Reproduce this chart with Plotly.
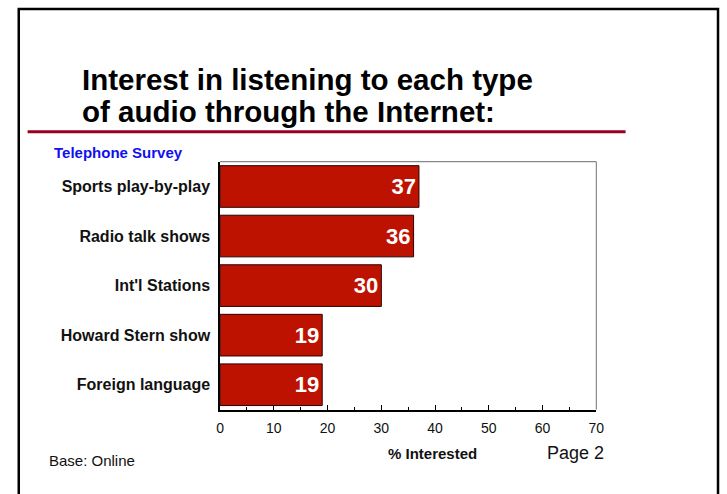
import plotly.graph_objects as go

# Survey results
categories = ["Sports play-by-play", "Radio talk shows", "Int'l Stations",
              "Howard Stern show", "Foreign language"]
interested = [37, 36, 30, 19, 19]
x_ticks = [0, 10, 20, 30, 40, 50, 60, 70]

W, H = 727, 494
FONT = "Liberation Sans, Arial, sans-serif"


def px(x):
    return x / W


def py(y):
    return 1 - y / H


fig = go.Figure()
fig.add_trace(go.Bar(
    x=interested,
    y=categories,
    orientation="h",
    width=0.84,
    marker=dict(color="#BE1200", line=dict(color="#2a0000", width=1)),
    text=[str(v) for v in interested],
    textposition="inside",
    insidetextanchor="end",
    textfont=dict(family=FONT, size=22, color="white", weight="bold"),
    hoverinfo="skip",
))

fig.update_layout(
    width=W, height=H, autosize=False,
    margin=dict(l=0, r=0, t=0, b=0),
    paper_bgcolor="white", plot_bgcolor="white",
    showlegend=False,
    xaxis=dict(
        domain=[px(219.7), px(602.3)],
        range=[0, 70],
        tickvals=x_ticks,
        ticktext=[str(v) for v in x_ticks],
        ticks="inside", ticklen=5, tickwidth=1, tickcolor="black",
        minor=dict(ticks="inside", ticklen=3, tickwidth=1, tickcolor="black", dtick=5),
        showline=True, linecolor="black", linewidth=1.5,
        showgrid=False, zeroline=False,
        ticklabelstandoff=5,
        tickfont=dict(family=FONT, size=14, color="#111"),
        fixedrange=True,
    ),
    yaxis=dict(
        domain=[py(409.5), py(161.7)],
        categoryorder="array", categoryarray=categories,
        autorange="reversed",
        showline=True, linecolor="black", linewidth=1.5,
        ticks="", showgrid=False, zeroline=False,
        ticklabelstandoff=5,
        tickfont=dict(family=FONT, size=16, color="#111", weight="bold"),
        fixedrange=True,
    ),
    shapes=[
        # outer slide frame
        dict(type="rect", xref="paper", yref="paper",
             x0=px(15), x1=px(726), y0=-0.2, y1=py(9),
             line=dict(color="black", width=2.5)),
        # rule under the title
        dict(type="line", xref="paper", yref="paper",
             x0=px(24), x1=px(632), y0=py(131.7), y1=py(131.7),
             line=dict(color="#990020", width=3)),
        # top and right edges of the plot box
        dict(type="line", xref="x domain", yref="y domain",
             x0=0, x1=1, y0=1, y1=1, line=dict(color="#888", width=1.2)),
        dict(type="line", xref="x domain", yref="y domain",
             x0=1, x1=1, y0=0, y1=1, line=dict(color="#888", width=1.2)),
    ],
    annotations=[
        dict(text="Interest in listening to each type", xref="paper", yref="paper",
             x=px(77), y=py(79.5), xanchor="left", yanchor="middle", showarrow=False,
             font=dict(family=FONT, size=29.5, color="black", weight="bold")),
        dict(text="of audio through the Internet:", xref="paper", yref="paper",
             x=px(77), y=py(111), xanchor="left", yanchor="middle", showarrow=False,
             font=dict(family=FONT, size=29.5, color="black", weight="bold")),
        dict(text="Telephone Survey", xref="paper", yref="paper",
             x=px(49), y=py(152), xanchor="left", yanchor="middle", showarrow=False,
             font=dict(family=FONT, size=15, color="#1010EE", weight="bold")),
        dict(text="% Interested", xref="paper", yref="paper",
             x=px(436), y=py(453), xanchor="center", yanchor="middle", showarrow=False,
             font=dict(family=FONT, size=15, color="#111", weight="bold")),
        dict(text="Page 2", xref="paper", yref="paper",
             x=px(612), y=py(453), xanchor="right", yanchor="middle", showarrow=False,
             font=dict(family=FONT, size=18, color="#111")),
        dict(text="Base: Online", xref="paper", yref="paper",
             x=px(44), y=py(460), xanchor="left", yanchor="middle", showarrow=False,
             font=dict(family=FONT, size=15, color="#111")),
    ],
)

fig.write_html("out.html")
